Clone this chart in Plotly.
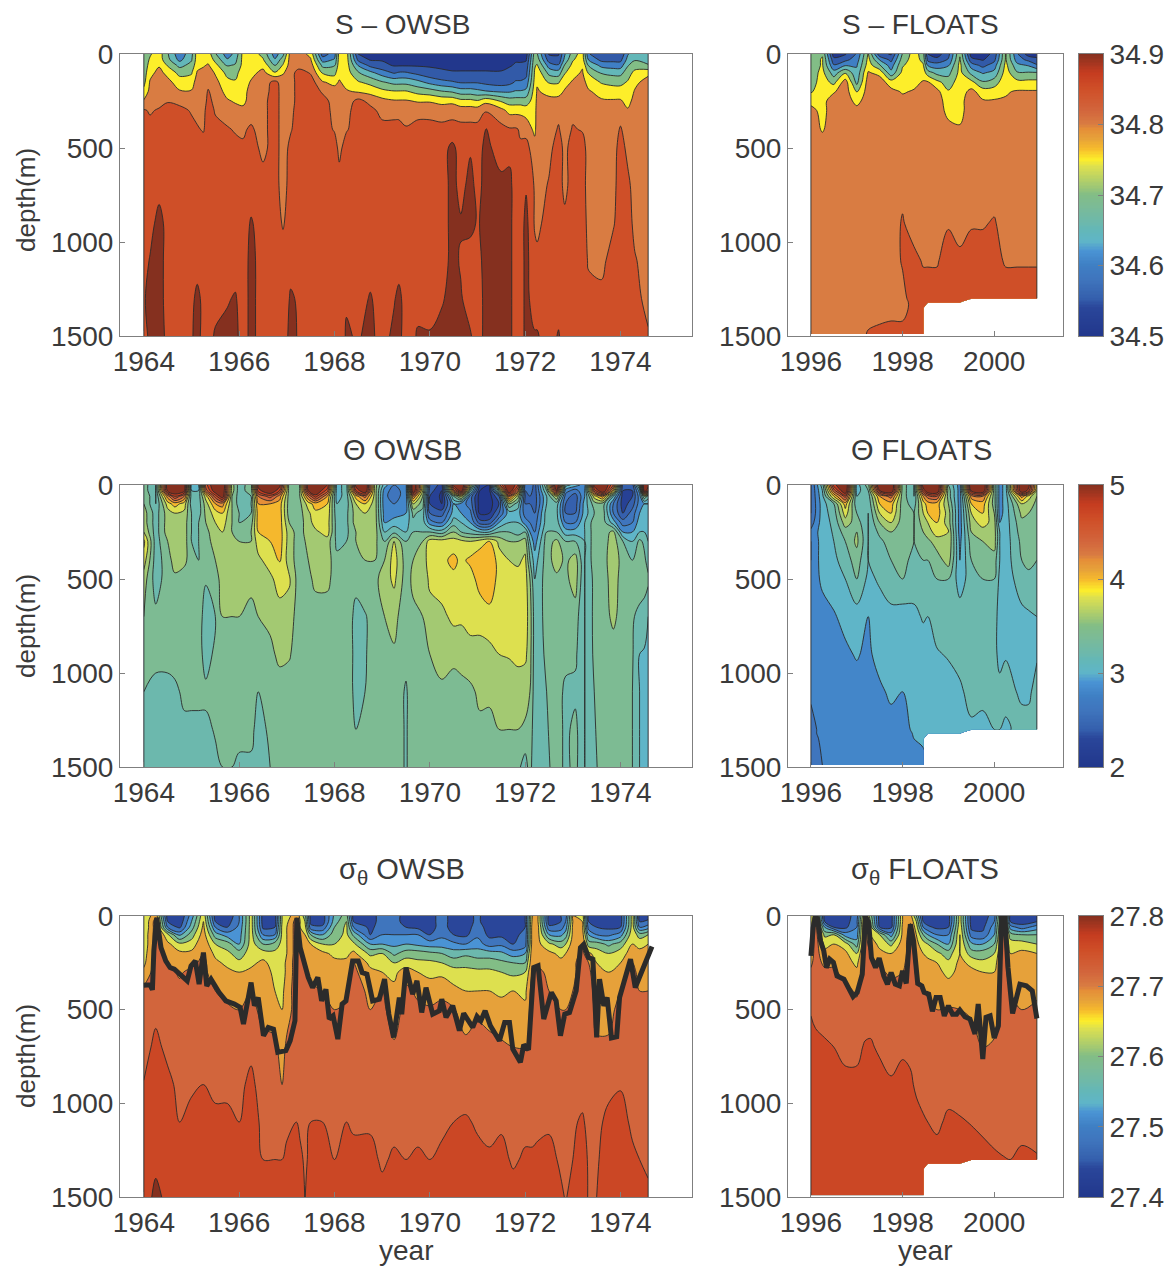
import numpy as np
import plotly.graph_objects as go

NA = None

# depth levels of the profiles (m)
DEPTHS = [0, 30, 60, 100, 150, 200, 250, 300, 400, 500, 700, 900, 1100, 1300, 1500]
FLOAT_DEPTHS = [0, 30, 60, 100, 150, 200, 250, 300, 400, 500, 700, 900, 1100, 1300, 1320, 1350, 1490]

# S OWSB, one profile per time, hundredths above 34
S_OWSB_YEARS = [1964.0, 1964.13, 1964.32, 1964.5, 1964.75, 1965.0, 1965.12, 1965.25, 1965.35, 1965.5, 1965.75, 1965.92,
                1966.08, 1966.25, 1966.5, 1966.75, 1966.92, 1967.08, 1967.25, 1967.5, 1967.75, 1968.0, 1968.1, 1968.25,
                1968.5, 1968.75, 1969.0, 1969.25, 1969.35, 1969.5, 1969.75, 1970.0, 1970.25, 1970.47, 1970.65, 1970.85,
                1971.0, 1971.17, 1971.5, 1971.67, 1971.8, 1971.9, 1972.02, 1972.2, 1972.25, 1972.5, 1972.7, 1972.83,
                1973.0, 1973.2, 1973.33, 1973.6, 1973.85, 1974.0, 1974.15, 1974.3, 1974.58]
S_OWSB = [
    [70, 70, 70, 70, 71, 74, 78, 83, 85, 85, 85, 85, 85, 87, 85],
    [72, 73, 74, 76, 78, 79, 80, 82, 84, 85, 85, 85, 88, 89, 89],
    [75, 75, 77, 79, 80, 80, 81, 83, 85, 85, 85, 90, 90, 90, 90],
    [68, 69, 72, 76, 79, 80, 82, 85, 85, 85, 85, 85, 85, 85, 86],
    [59, 61, 66, 71, 75, 78, 81, 84, 85, 85, 85, 85, 85, 85, 85],
    [66, 67, 69, 72, 75, 78, 80, 82, 84, 85, 85, 85, 85, 86, 87],
    [75, 75, 76, 78, 80, 80, 80, 81, 83, 85, 85, 85, 85, 89, 89],
    [75, 75, 77, 79, 80, 80, 80, 81, 82, 85, 85, 85, 85, 86, 86],
    [75, 76, 78, 80, 81, 83, 84, 85, 85, 85, 85, 85, 85, 85, 86],
    [68, 71, 74, 77, 79, 80, 81, 82, 84, 85, 85, 85, 85, 86, 88],
    [60, 63, 67, 71, 74, 76, 78, 80, 83, 85, 85, 85, 85, 87, 89],
    [64, 66, 68, 71, 73, 75, 77, 79, 82, 84, 85, 85, 85, 88, 89],
    [74, 74, 74, 75, 75, 75, 76, 79, 82, 83, 85, 85, 85, 85, 85],
    [75, 75, 75, 76, 78, 80, 80, 81, 83, 85, 85, 88, 89, 89, 89],
    [71, 73, 76, 79, 80, 80, 81, 81, 81, 81, 85, 85, 85, 85, 85],
    [60, 63, 67, 73, 84, 85, 85, 85, 85, 85, 85, 85, 85, 85, 85],
    [66, 70, 73, 77, 80, 80, 80, 80, 80, 80, 80, 82, 85, 85, 85],
    [80, 80, 80, 80, 80, 80, 80, 81, 82, 84, 85, 85, 86, 88, 89],
    [80, 80, 80, 85, 85, 85, 85, 85, 85, 85, 85, 85, 85, 87, 87],
    [76, 78, 80, 82, 85, 85, 85, 85, 85, 85, 85, 85, 85, 85, 87],
    [55, 60, 66, 72, 78, 82, 84, 85, 85, 85, 85, 85, 85, 85, 85],
    [60, 63, 67, 71, 76, 80, 81, 81, 82, 85, 85, 85, 85, 85, 85],
    [75, 75, 75, 76, 78, 80, 80, 80, 80, 81, 85, 85, 85, 85, 85],
    [75, 75, 75, 75, 76, 78, 80, 81, 82, 85, 85, 85, 85, 87, 88],
    [52, 56, 62, 68, 73, 77, 84, 85, 85, 85, 85, 85, 85, 85, 87],
    [50, 52, 56, 64, 71, 76, 81, 84, 85, 85, 85, 85, 85, 88, 89],
    [50, 52, 54, 60, 68, 74, 79, 81, 84, 85, 85, 85, 85, 85, 85],
    [48, 50, 52, 57, 66, 73, 78, 81, 84, 85, 85, 85, 85, 87, 89],
    [48, 50, 52, 58, 66, 73, 78, 81, 84, 85, 85, 85, 85, 89, 89],
    [48, 50, 52, 58, 66, 73, 78, 80, 83, 85, 85, 85, 85, 85, 85],
    [48, 50, 52, 56, 64, 71, 77, 81, 84, 85, 85, 85, 85, 86, 88],
    [48, 50, 52, 54, 61, 70, 77, 81, 84, 85, 85, 85, 85, 85, 88],
    [48, 50, 52, 53, 59, 68, 76, 80, 84, 85, 85, 85, 85, 87, 89],
    [48, 50, 51, 53, 58, 67, 76, 81, 84, 89, 89, 89, 89, 89, 89],
    [48, 50, 51, 53, 57, 65, 74, 80, 84, 85, 86, 88, 87, 88, 89],
    [48, 50, 51, 53, 57, 65, 74, 80, 84, 87, 89, 89, 85, 85, 88],
    [48, 50, 51, 53, 57, 64, 73, 80, 84, 85, 86, 87, 86, 85, 85],
    [47, 49, 51, 53, 56, 63, 76, 82, 88, 89, 89, 89, 89, 89, 89],
    [47, 49, 51, 53, 55, 62, 72, 79, 84, 85, 89, 89, 89, 88, 89],
    [48, 50, 52, 54, 56, 62, 70, 76, 83, 86, 89, 89, 89, 89, 89],
    [50, 52, 53, 55, 58, 63, 70, 76, 83, 85, 85, 85, 85, 85, 85],
    [50, 52, 53, 55, 58, 63, 70, 76, 82, 83, 85, 85, 85, 85, 85],
    [50, 52, 54, 56, 59, 64, 70, 75, 81, 84, 87, 89, 89, 89, 89],
    [70, 71, 72, 73, 74, 75, 75, 75, 76, 80, 82, 82, 84, 85, 88],
    [68, 70, 73, 76, 77, 78, 79, 80, 80, 80, 80, 81, 84, 85, 88],
    [52, 55, 60, 66, 72, 76, 79, 80, 80, 81, 83, 85, 85, 85, 85],
    [52, 54, 58, 65, 72, 76, 79, 81, 83, 85, 85, 85, 85, 85, 88],
    [62, 64, 68, 72, 76, 78, 80, 80, 80, 81, 81, 84, 85, 85, 85],
    [70, 72, 74, 76, 78, 80, 81, 81, 83, 85, 85, 85, 85, 85, 85],
    [75, 75, 77, 78, 79, 80, 80, 81, 82, 85, 85, 85, 85, 85, 87],
    [58, 62, 67, 72, 76, 78, 80, 80, 80, 80, 80, 81, 82, 84, 85],
    [53, 56, 61, 67, 72, 76, 78, 80, 80, 80, 80, 80, 81, 84, 85],
    [53, 56, 60, 66, 71, 75, 78, 80, 80, 80, 81, 82, 85, 85, 85],
    [53, 56, 60, 66, 71, 75, 78, 80, 83, 85, 85, 85, 85, 85, 85],
    [62, 64, 67, 70, 73, 74, 76, 78, 80, 81, 84, 85, 85, 85, 85],
    [65, 67, 70, 74, 76, 78, 79, 80, 80, 80, 80, 81, 83, 84, 85],
    [64, 65, 68, 76, 80, 80, 80, 80, 80, 80, 80, 80, 80, 81, 83],
]

# S floats, hundredths above 34
S_FLOATS_YEARS = [1996.0, 1996.25, 1996.5, 1996.75, 1997.0, 1997.25, 1997.5, 1997.75, 1998.0, 1998.25, 1998.45, 1998.55,
                  1998.75, 1999.0, 1999.25, 1999.5, 1999.75, 2000.0, 2000.25, 2000.5, 2000.75, 2000.93]
S_FLOATS = [
    [70, 70, 70, 70, 70, 72, 76, 79, 80, 80, 80, 80, 80, 80, 80, 80, 80],
    [72, 73, 73, 74, 75, 75, 76, 76, 77, 80, 80, 80, 80, 80, 80, 80, 80],
    [50, 54, 58, 65, 71, 77, 80, 80, 80, 80, 80, 80, 80, 80, 80, 80, 80],
    [52, 56, 62, 72, 80, 80, 80, 80, 80, 80, 80, 80, 80, 80, 80, 80, 80],
    [58, 60, 62, 64, 66, 72, 76, 79, 80, 80, 80, 80, 80, 80, 80, 80, 80],
    [73, 74, 75, 78, 80, 80, 80, 80, 80, 80, 80, 80, 80, 80, 80, 80, 83],
    [54, 62, 68, 76, 80, 80, 80, 80, 80, 80, 80, 80, 80, 80, 80, 80, 84],
    [52, 56, 60, 64, 75, 79, 80, 80, 80, 80, 80, 80, 80, 80, 80, 80, 85],
    [68, 70, 72, 74, 75, 77, 79, 80, 80, 80, 81, 83, 83, 81, 80, 80, 85],
    [75, 75, 75, 75, 76, 78, 80, 80, 80, 80, 80, 80, 84, 85, 85, 85, 85],
    [70, 71, 73, 75, 78, 80, 80, 80, 80, 80, 80, 80, 82, 85, 85, 85, 85],
    [52, 56, 62, 70, 78, 80, 80, 80, 80, 80, 80, 80, 82, 85, 85, NA, NA],
    [50, 54, 60, 66, 74, 79, 80, 80, 80, 80, 80, 80, 82, 85, 85, NA, NA],
    [56, 58, 62, 66, 70, 73, 75, 76, 79, 80, 80, 82, 85, 85, 85, NA, NA],
    [72, 73, 74, 74, 75, 75, 76, 76, 78, 80, 80, 80, 84, 85, 85, NA, NA],
    [50, 54, 60, 66, 74, 79, 80, 80, 80, 80, 80, 82, 85, 85, NA, NA, NA],
    [50, 52, 56, 62, 68, 75, 78, 80, 80, 80, 80, 82, 85, 85, NA, NA, NA],
    [54, 56, 60, 64, 70, 75, 78, 80, 80, 80, 80, 83, 84, 85, NA, NA, NA],
    [73, 73, 74, 75, 76, 77, 78, 79, 80, 80, 80, 80, 82, 85, NA, NA, NA],
    [58, 60, 64, 68, 74, 78, 80, 80, 80, 80, 80, 80, 82, 85, NA, NA, NA],
    [50, 56, 62, 68, 74, 78, 80, 80, 80, 80, 80, 80, 82, 85, NA, NA, NA],
    [50, 54, 58, 68, 74, 78, 80, 80, 80, 80, 80, 80, 82, 85, NA, NA, NA],
]

# potential temperature OWSB, tenths of a degree
T_OWSB_YEARS = [1964.0, 1964.25, 1964.5, 1964.65, 1964.85, 1965.0, 1965.15, 1965.3, 1965.5, 1965.65, 1965.85, 1966.0,
                1966.25, 1966.4, 1966.65, 1966.85, 1967.05, 1967.25, 1967.45, 1967.6, 1967.85, 1968.05, 1968.25, 1968.45,
                1968.64, 1968.85, 1969.05, 1969.25, 1969.5, 1969.65, 1969.85, 1970.0, 1970.25, 1970.5, 1970.66, 1970.85,
                1971.05, 1971.25, 1971.45, 1971.66, 1971.85, 1972.0, 1972.1, 1972.2, 1972.45, 1972.66, 1972.85, 1973.05,
                1973.25, 1973.45, 1973.63, 1973.85, 1974.05, 1974.25, 1974.4, 1974.5, 1974.58]
T_OWSB = [
    [34, 34, 35, 35, 36, 36, 37, 39.5, 38, 36, 35, 34, 33, 32, 32],
    [31, 31, 31, 31, 32, 32, 32, 32, 32, 32, 33.5, 33.5, 32.5, 32, 32],
    [51, 50, 42, 38, 36, 36, 36, 35, 34, 34, 34, 33.5, 32.5, 32, 32],
    [53, 52, 47, 40, 37, 36, 36, 36, 36, 34.5, 34, 34, 32.5, 32, 32],
    [51, 50, 43, 38, 36.5, 36, 36, 36, 35.5, 34, 34, 34, 33.5, 32.5, 32],
    [30, 31, 32, 32, 33, 33, 33, 33, 34, 34, 34, 34, 33.5, 32.5, 32],
    [31, 31, 32, 32, 32, 33, 33, 33, 33, 34, 34, 34, 34, 32, 32],
    [46, 44, 38, 36, 35.5, 35, 34.5, 34, 34, 33.2, 32, 32, 33.5, 32.5, 32],
    [52, 51, 46, 41, 38, 37, 36, 36, 35, 34, 33, 33.5, 33.6, 33.2, 32.5],
    [53, 52, 51, 42, 39, 38, 37, 36, 36, 36, 35, 34, 34, 33.5, 33],
    [36, 36, 35, 35, 35, 35, 35, 35.5, 36, 36, 35, 34, 34, 33.5, 33],
    [32, 32, 32, 32, 33, 33, 34.5, 35, 35.5, 36, 35, 34, 34, 33.8, 32.5],
    [34, 34, 33, 33, 33, 34, 35, 35, 35.5, 35.5, 34.5, 34, 34, 33.7, 32.5],
    [50, 48, 43, 41, 40, 40, 39, 38, 36.5, 36, 35, 34, 33, 32, 32],
    [53, 52, 46, 41, 40, 40, 39.5, 39, 38, 36.5, 35.5, 34.5, 33.5, 33.5, 33],
    [50, 47, 42, 40, 40, 40, 40, 40, 39.2, 38, 36, 35.5, 34, 34, 34],
    [34, 34, 34, 34, 34, 35, 36, 36, 36, 37.3, 36, 35.2, 34, 34, 34],
    [33.5, 33.5, 34, 34, 34, 34, 34, 34, 34, 34, 34, 34, 34, 34, 34],
    [51, 49, 43, 38, 36.5, 36, 36, 35.5, 35, 34.5, 34, 34, 34, 34, 34],
    [53, 52, 48, 40, 38.5, 38, 36.5, 36, 35.5, 35.5, 34, 34, 34, 34, 34],
    [49, 46, 41, 39, 38.5, 38, 38, 36, 36, 35.5, 34, 34, 34, 34, 34],
    [30, 30, 30, 31, 31.5, 32, 32, 32.5, 33.5, 34, 34, 34, 34, 34, 34],
    [32, 32, 32, 32, 32.5, 32.5, 32.5, 33, 34, 34, 34, 34, 34, 34, 34],
    [50, 47, 40, 37, 36, 36, 35, 35, 34, 33.5, 32.5, 32.5, 32.5, 33, 34],
    [53, 52, 44, 39, 37, 36.5, 36, 35.5, 35, 34.5, 32.8, 32.8, 33, 34, 34],
    [36, 36, 36, 36, 36, 36, 36, 35.5, 35, 34.5, 34, 34, 34, 34, 34],
    [30, 28, 27.5, 27.5, 28, 29, 31, 33, 35, 36, 35, 34.5, 34, 34, 34],
    [27, 26, 26, 27, 28, 30, 32.5, 37, 38, 37.5, 35.5, 34.8, 34, 34, 34],
    [28, 28, 28, 28, 29, 30, 31, 33, 34, 34, 34, 33.5, 32.8, 32.8, 32.8],
    [53, 52, 43, 37, 33.5, 32.5, 33, 34, 35, 35.5, 34.5, 34, 34, 34, 34],
    [38, 37, 35, 34, 32, 32, 33, 35, 36, 35.5, 35, 34, 34, 34, 34],
    [25, 24, 23, 23, 25, 28, 33, 38, 38, 37.5, 36, 35, 34.5, 34, 34],
    [22, 21, 20.5, 21, 24, 27, 32, 38, 38.5, 38, 36.5, 36, 34.5, 34, 34],
    [50, 44, 33, 29, 30, 32, 35, 38, 39.5, 38.5, 37.5, 35.5, 34.2, 34, 34],
    [53, 51, 38, 28, 29, 31, 33, 37.5, 38.5, 38.5, 37.4, 35.6, 34.5, 34, 34],
    [38, 32, 26, 26, 27.5, 29, 32, 37, 39.5, 38, 37.5, 36.5, 34.5, 34, 34],
    [22, 21, 20, 20, 20.5, 24, 31, 38, 40.5, 40, 37.5, 36.5, 35.5, 34.5, 34],
    [21, 20.5, 20, 20, 21, 24, 31, 39, 41, 41, 38, 36.5, 35.5, 34.3, 34],
    [44, 34, 25, 23, 25, 29, 33, 36.5, 38, 38, 38, 37, 35.5, 35, 34],
    [53, 52, 44, 35, 30, 31, 33, 35, 37, 38, 38, 37.2, 35.5, 35, 34],
    [47, 43, 36, 32, 30, 31, 32, 35, 36.5, 38, 38, 37.5, 36, 35, 33.5],
    [26, 25, 25, 25, 26, 28, 33, 36, 37.5, 38, 38, 37.5, 35.5, 34.8, 32],
    [27, 26, 25, 25, 26, 27, 29, 31, 33, 35, 36, 35.8, 35, 34, 34],
    [24, 24, 24, 24, 25, 26, 27, 28, 30, 31, 32, 32, 32, 32, 31],
    [35, 33, 31, 31, 32, 32, 33, 34, 34, 34, 33.5, 33.3, 33, 32.8, 32.5],
    [53, 49, 37, 32, 31.5, 32, 33, 35.5, 36, 34.5, 34, 33.5, 34, 34, 34],
    [32, 28, 26, 25, 25, 27, 30, 33, 34.5, 34.5, 34, 33.7, 32.5, 32.5, 32.5],
    [30, 26, 24, 24, 25, 27, 30, 33, 36, 36, 34, 33.4, 32.5, 33.6, 33.6],
    [28, 29, 29, 30, 30, 31, 31, 31, 31, 31, 31, 31, 31, 31, 31],
    [50, 46, 38, 34, 33, 34, 34, 34, 34, 33.5, 33.5, 33.4, 33, 32.8, 32.5],
    [53, 52, 42, 34, 34, 34, 34, 34, 34, 34, 34, 34, 34, 34, 34],
    [45, 40, 31, 27, 27, 30, 35.5, 36, 36.5, 36, 35.5, 34, 34, 34, 34],
    [24, 23, 22, 22, 23, 26, 29, 33, 34, 34, 34, 34, 34, 34, 34],
    [24, 23, 23, 24, 26, 27, 29, 31, 33, 33.4, 33.2, 33.2, 33, 33, 33],
    [35, 30, 28, 28, 29, 30, 31, 33.5, 34, 34, 32.5, 31, 31, 31, 31],
    [53, 51, 35, 29, 30, 30, 31, 32.5, 33.5, 34, 32, 30.8, 30.8, 30.8, 30.8],
    [50, 47, 32, 29, 30, 30, 30.5, 31, 32, 33.5, 31, 30.5, 30.5, 30.5, 30.5],
]

# potential temperature floats, tenths of a degree
T_FLOATS_YEARS = [1996.0, 1996.25, 1996.5, 1996.75, 1997.0, 1997.25, 1997.5, 1997.75, 1998.0, 1998.25, 1998.45, 1998.55,
                  1998.75, 1999.0, 1999.25, 1999.5, 1999.75, 2000.0, 2000.12, 2000.25, 2000.6, 2000.75, 2000.93]
T_FLOATS = [
    [25, 25, 25, 25, 25, 26, 27.5, 27, 27, 27.5, 28, 28, 27.5, 26, 26, 26, 26],
    [32, 31, 30.5, 30, 30, 30, 30, 30, 30, 29.5, 28, 28, 28, 28, 28, 27.5, 27],
    [48, 44, 39, 33, 32, 31.5, 31.2, 31, 30.5, 30, 28.8, 28.5, 28, 28, 28, 28, 28],
    [53, 52, 46, 40, 38, 36, 34, 33, 32, 31, 29.6, 28.6, 28, 28, 28, 28, 28],
    [30, 30, 31, 31.5, 33, 34, 35, 35.5, 34, 33, 30, 29.2, 28, 28, 28, 28, 28],
    [34, 33, 32, 31.5, 31, 31, 31, 31, 31, 30.5, 29, 28.5, 28, 28, 28, 28, 28],
    [53, 49, 41, 39, 37, 35, 33.5, 32.5, 32, 31.3, 30, 30, 28.5, 28, 28, 28, 28],
    [53, 52, 44, 40, 39, 37, 35, 34, 33, 32, 30.5, 30, 29.5, 28, 28, 28, 28],
    [34, 34, 34, 34, 34, 34, 34, 34, 33.5, 33, 30, 30, 29, 28, 28, 28, 28],
    [31, 31, 31, 32, 33, 33, 33, 33, 32.5, 32, 30.5, 30, 30, 29.5, 29.2, 29, 28],
    [51, 47, 41, 38, 37, 36, 35, 34, 33, 32, 31.2, 30, 30, 30, 30, 29.5, 28],
    [53, 52, 44, 40, 39, 37, 36, 34.5, 33, 32, 31, 30, 30, 30, 30, NA, NA],
    [53, 52, 45, 40, 40, 39, 38, 36, 34, 33, 32, 30.8, 30, 30, 30, NA, NA],
    [33, 34, 34, 35, 36, 36, 37, 37, 36, 33, 32, 31.2, 30, 30, 30, NA, NA],
    [28, 28, 28, 28, 28, 28, 28, 28.5, 29, 30, 32, 32, 30.5, 30, 30, NA, NA],
    [53, 50, 42, 39, 37, 36, 35, 34, 33, 32, 32, 32, 32, 30.5, NA, NA, NA],
    [53, 52, 43, 40, 39, 38, 36, 35, 34, 33, 32, 32, 32, 30, NA, NA, NA],
    [34, 34, 34, 34, 35, 36, 36, 36, 34, 33, 32, 32, 32, 31, NA, NA, NA],
    [28, 28, 28, 28, 28, 29, 31, 31, 31, 30.5, 30, 30, 32, 31, NA, NA, NA],
    [30, 30, 30, 30, 30, 30, 30, 30, 30, 30, 30, 30.8, 32, 30.5, NA, NA, NA],
    [53, 52, 42, 37, 35.5, 34.5, 34, 33.5, 33, 32, 30.5, 30, 30.5, 32, NA, NA, NA],
    [50, 48, 38, 36, 35, 34.5, 34.5, 34.5, 33.5, 32.5, 30.7, 30, 30.5, 32, NA, NA, NA],
    [38, 37, 35, 34.5, 34, 34, 34, 34, 33, 32.5, 31, 30.7, 32, 32, NA, NA, NA],
]

# sigma theta OWSB, hundredths above 27
D_OWSB_YEARS = [1964.0, 1964.25, 1964.5, 1964.75, 1965.0, 1965.25, 1965.5, 1965.75, 1966.0, 1966.25, 1966.5, 1966.75,
                1966.9, 1967.0, 1967.2, 1967.28, 1967.38, 1967.5, 1967.75, 1968.0, 1968.25, 1968.4, 1968.75, 1969.0, 1969.25,
                1969.5, 1969.75, 1970.0, 1970.25, 1970.5, 1970.75, 1971.0, 1971.25, 1971.5, 1971.75, 1972.0, 1972.15,
                1972.27, 1972.5, 1972.75, 1972.85, 1973.0, 1973.2, 1973.33, 1973.5, 1973.75, 1974.0, 1974.25, 1974.4, 1974.58]
D_OWSB = [
    [62, 62, 62, 63, 63, 64, 65, 67, 71, 72, 72.5, 74.2, 76, 76, 76],
    [69, 72, 72, 72, 72, 72, 72, 72, 72, 73, 75, 76, 76, 77, 79],
    [44, 46, 50, 63, 67, 68, 70, 71, 72, 72, 73, 75, 76, 76, 77],
    [42, 43, 45, 53, 63, 67, 68, 69.5, 71, 72, 72, 73, 74, 75, 76],
    [52, 54, 56, 60, 64, 67, 69, 71, 72, 72, 72, 73.5, 75, 76, 76],
    [65, 66, 67, 68, 69, 70, 71, 71, 72, 72, 72, 74, 75, 76, 76],
    [44, 46, 50, 56, 62, 65, 67, 68, 70, 71, 72, 73, 75, 76, 76],
    [42, 44, 46, 52, 60, 63, 65, 67, 69, 70.5, 72, 73, 75, 76, 76],
    [50, 50, 51, 52, 54, 60, 63, 66, 68, 70, 72, 73, 74, 76, 77],
    [64, 64, 64, 64, 64, 64, 65, 67, 70, 71, 73, 75, 76, 76, 76],
    [44, 44, 45, 50, 58, 64, 67, 68, 68, 69, 71, 72, 73, 74, 76],
    [44, 44, 46, 50, 60, 63, 64, 65, 66, 68, 71, 72, 73, 74, 76],
    [62, 62, 63, 63, 63, 63, 64, 64, 65, 66, 68, 70, 73, 74, 76],
    [64, 65, 66, 66, 66, 66, 67, 67, 68, 68, 71, 72, 73, 75, 76],
    [69, 72, 72, 72, 72, 72, 72, 72, 72, 72, 72, 73, 74, 75, 76],
    [65, 66, 66, 67, 69, 71, 72, 72, 72, 72, 72, 72, 73, 75, 76],
    [60, 62, 64, 66, 68, 69, 70, 71, 72, 72, 72, 72, 73, 73.3, 73.9],
    [44, 45, 47, 58, 66, 67, 68, 68.5, 71, 72, 72, 73, 74, 75, 76],
    [44, 44, 47, 54, 62, 67, 68, 69, 70, 71, 72, 73, 74, 75, 76],
    [55, 56, 58, 60, 62, 65, 67, 68, 69, 70, 72, 73, 73, 74, 76],
    [60, 62, 63, 63, 64, 65, 67, 68, 69.5, 70.5, 72, 73, 74, 75, 76],
    [44, 46, 50, 57, 63, 67, 70, 71, 72, 72, 72, 73, 73.5, 75, 76],
    [44, 44, 45, 46, 54, 61, 65, 67, 69, 70, 72, 73, 73.5, 75, 76],
    [48, 48, 48, 50, 54, 62, 65, 66, 70, 71, 72, 72, 73, 73.5, 75],
    [48, 48, 48, 50, 53, 57, 62, 65, 67, 68, 70.5, 72, 73, 74.5, 76],
    [44, 44, 46, 50, 54, 60, 64, 68, 71, 71.5, 72, 72, 73, 74, 76],
    [44, 44, 45, 50, 53, 60, 63, 66, 69, 71, 72, 72, 73, 74.5, 76],
    [44, 44, 44, 46, 52, 59, 63, 65, 68, 70.5, 72, 72, 73, 74, 75.5],
    [48, 48, 48, 49, 52, 58, 62, 65, 69, 71, 72, 72, 73, 75, 76],
    [44, 44, 44, 46, 51, 56, 60, 64, 67, 70.3, 72, 72, 74, 75, 76],
    [44, 44, 44, 45, 50, 57, 61, 63, 66, 68, 71, 72, 74.5, 75, 77],
    [47, 47, 48, 49, 52, 56, 60, 63, 66, 69.5, 71, 72, 73.5, 75, 76],
    [43, 43, 44, 45, 48, 56, 60, 63, 66, 68, 71.5, 72, 73, 74.5, 76],
    [43, 43, 44, 45, 49, 55, 59, 62, 65, 68, 70.5, 72, 73.5, 75, 76],
    [44, 44, 44, 45, 46, 52, 58, 61, 66, 67, 70, 72, 73, 73.5, 75.5],
    [46, 46, 46, 47, 48, 54, 58, 62, 65, 67, 70, 72, 73, 74.5, 76],
    [66, 67, 68, 68, 68, 69, 69.5, 70.5, 72, 72, 72, 73, 73, 74.5, 76],
    [66, 66, 67, 67, 67, 68, 69, 71, 72, 72, 72, 73, 73.5, 74.5, 76],
    [44, 44, 47, 54, 63, 67, 68, 69, 70, 71, 72, 73, 73.5, 75, 77],
    [46, 46, 48, 53, 60, 65, 67, 68, 69, 70, 71.5, 72.5, 73, 73.5, 74.5],
    [48, 50, 52, 56, 62, 66, 68, 68, 69, 70, 71.5, 72.5, 73, 73.5, 73.8],
    [66, 66, 67, 67, 68, 68, 69, 69, 70, 71, 72, 73, 73.5, 74, 75],
    [65, 66, 67, 68, 70, 71, 72, 72, 72, 72, 72, 72.5, 74.5, 76, 77],
    [44, 46, 48, 54, 60, 67, 70, 71, 72, 72, 72, 73, 73, 73.5, 73.5],
    [44, 44, 46, 50, 60, 64, 66, 67, 68, 69, 70.5, 72, 73, 73.5, 74],
    [44, 44, 45, 49, 57, 62, 64, 66, 68, 69, 70.5, 73, 75, 76, 76],
    [44, 44, 46, 52, 60, 64, 66, 68, 70, 71, 72, 73.6, 76, 76, 76],
    [64, 64, 64, 65, 66, 68, 70, 71, 72, 72, 72, 72, 73, 75, 76],
    [44, 46, 50, 60, 65, 67, 68, 69, 70, 71, 72, 72, 73, 74, 75.5],
    [44, 47, 52, 62, 66, 67, 68, 69, 70, 71, 72, 72, 73, 73.5, 74.5],
]

# sigma theta floats, hundredths above 27
D_FLOATS_YEARS = [1996.0, 1996.1, 1996.3, 1996.5, 1996.75, 1997.0, 1997.18, 1997.3, 1997.5, 1997.75, 1998.0, 1998.17,
                  1998.3, 1998.45, 1998.55, 1998.75, 1999.0, 1999.25, 1999.5, 1999.75, 2000.0, 2000.2, 2000.35, 2000.6, 2000.93]
D_FLOATS = [
    [64, 64, 65, 65, 66, 67, 69, 71, 72, 73.8, 75, 76, 76, 76, 76, 76, 76],
    [68, 71, 72, 72, 72, 72, 72, 72, 72, 73, 75, 76, 76, 76, 76, 76, 76],
    [44, 46, 54, 61, 65, 67, 69, 71, 72, 72.5, 74.5, 76, 76, 76, 76, 76, 76],
    [44, 45, 46, 62, 66, 67, 69.5, 70.5, 71, 72, 74, 75, 76, 76, 76, 76, 76],
    [44, 44, 45, 52, 64, 67, 68, 69, 71, 72, 73, 75, 76, 76, 76, 76, 76],
    [48, 49, 50, 52, 56, 62, 65, 67, 69.5, 71, 73.5, 74.5, 76, 76, 76, 76, 76],
    [68, 71, 72, 72, 72, 72, 72, 72, 72, 73, 74.2, 75, 76, 76, 76, 76, 76],
    [60, 62, 64, 66, 68, 70, 71, 72, 72, 73, 74.3, 75, 76, 76, 76, 76, 76],
    [44, 44, 46, 62, 65, 67, 69.5, 70.5, 71, 72, 73.6, 75, 76, 76, 76, 76, 76],
    [44, 44, 45, 52, 61, 66, 68, 69.5, 71, 72, 73, 74.3, 75, 76, 76, 76, 76],
    [66, 66, 67, 67, 68, 68, 69, 70, 72, 72, 73.5, 75, 76, 76, 76, 76, 76],
    [68, 69.5, 71, 72, 72, 72, 72, 72, 72, 72, 73.3, 74.5, 75, 76, 76, 76, 76],
    [58, 62, 64, 66, 67, 68, 69, 69.5, 71, 72, 72.5, 73.5, 75, 76, 76, 76, 76],
    [44, 46, 50, 58, 64, 66, 67, 68, 70, 71, 72, 73, 74.3, 75, 75, 75, 75],
    [44, 44, 47, 54, 62, 65, 67, 68, 69.5, 71, 72, 73, 74, 75, 75, NA, NA],
    [44, 44, 45, 50, 58, 63, 66, 67, 68, 70, 72, 73, 73.5, 75, 75, NA, NA],
    [44, 44, 46, 50, 54, 60, 63, 65, 68, 70.3, 72, 73, 74.5, 75, 75, NA, NA],
    [64, 64, 65, 66, 66, 66, 67, 67, 69, 70, 72, 73, 74.2, 75, 75, NA, NA],
    [44, 44, 45, 48, 55, 60, 65, 67, 68, 69.5, 71.5, 73, 73.9, 75, NA, NA, NA],
    [44, 44, 45, 47, 54, 60, 63, 66, 67, 68, 70, 72, 73.6, 74.6, NA, NA, NA],
    [48, 50, 52, 54, 58, 62, 64, 66, 67, 68, 70.6, 72, 73, 74.4, NA, NA, NA],
    [70, 71, 72, 72, 72, 72, 72, 72, 72, 72, 72, 72.5, 73, 74.1, NA, NA, NA],
    [44, 46, 52, 60, 64, 66, 67, 68, 70, 71, 72, 73, 73.6, 74, NA, NA, NA],
    [44, 44, 48, 58, 64, 67, 68, 68.5, 69, 70, 72, 73, 73.5, 74.3, NA, NA, NA],
    [44, 46, 52, 58, 62, 66, 67, 68, 69, 71, 72, 73, 73.5, 74.1, NA, NA, NA],
]

# thick black line on the sigma panels
LINE_OWSB_YEARS = [1964.0, 1964.13, 1964.18, 1964.21, 1964.27, 1964.32, 1964.36, 1964.46, 1964.55, 1964.64, 1964.78, 1964.91,
                   1964.99, 1965.08, 1965.16, 1965.25, 1965.32, 1965.41, 1965.58, 1965.72, 1965.9, 1966.02, 1966.09, 1966.16,
                   1966.25, 1966.32, 1966.4, 1966.51, 1966.61, 1966.72, 1966.81, 1966.98, 1967.07, 1967.17, 1967.21, 1967.28,
                   1967.45, 1967.54, 1967.65, 1967.73, 1967.82, 1967.89, 1967.97, 1968.07, 1968.16, 1968.24, 1968.38, 1968.5,
                   1968.58, 1968.68, 1968.8, 1968.94, 1969.05, 1969.14, 1969.24, 1969.36, 1969.41, 1969.5, 1969.64, 1969.73,
                   1969.83, 1969.92, 1970.06, 1970.2, 1970.25, 1970.34, 1970.48, 1970.62, 1970.71, 1970.9, 1970.99, 1971.07,
                   1971.16, 1971.27, 1971.46, 1971.57, 1971.67, 1971.74, 1971.9, 1971.97, 1972.07, 1972.18, 1972.27, 1972.39,
                   1972.55, 1972.65, 1972.74, 1972.83, 1972.93, 1973.07, 1973.16, 1973.23, 1973.33, 1973.42, 1973.5, 1973.56,
                   1973.65, 1973.72, 1973.81, 1973.92, 1973.98, 1974.21, 1974.31, 1974.66]
LINE_OWSB_DEPTH = [369, 367, 394, 186, 9, 98, 169, 240, 275, 284, 320, 346,
                   266, 240, 364, 195, 373, 337, 408, 453, 470, 488, 577, 488,
                   355, 479, 435, 639, 595, 604, 728, 719, 666, 559, 9, 169,
                   328, 382, 328, 453, 391, 550, 533, 657, 470, 453, 240, 240,
                   302, 311, 453, 444, 337, 524, 648, 435, 524, 275, 417, 346,
                   515, 382, 524, 506, 444, 541, 479, 612, 520, 595, 536, 559,
                   506, 586, 666, 568, 568, 710, 781, 687, 715, 275, 266, 550,
                   408, 453, 639, 524, 515, 399, 169, 151, 222, 231, 648, 337,
                   479, 435, 651, 644, 435, 231, 382, 163]
LINE_FLOATS_YEARS = [1996.0, 1996.05, 1996.1, 1996.15, 1996.21, 1996.28, 1996.34, 1996.41, 1996.49, 1996.57, 1996.72, 1996.83,
                     1996.92, 1997.01, 1997.12, 1997.19, 1997.26, 1997.32, 1997.41, 1997.49, 1997.59, 1997.67, 1997.75, 1997.84,
                     1997.93, 1998.0, 1998.08, 1998.17, 1998.24, 1998.33, 1998.42, 1998.47, 1998.57, 1998.65, 1998.73, 1998.82,
                     1998.91, 1999.0, 1999.09, 1999.18, 1999.25, 1999.36, 1999.47, 1999.58, 1999.65, 1999.75, 1999.82, 1999.91,
                     2000.0, 2000.09, 2000.16, 2000.23, 2000.3, 2000.4, 2000.56, 2000.7, 2000.83, 2000.93]
LINE_FLOATS_DEPTH = [213, 62, 0, 18, 133, 186, 275, 231, 248, 320, 337, 382,
                     430, 408, 311, 0, 36, 222, 275, 225, 320, 364, 302, 364,
                     373, 293, 360, 44, 133, 360, 373, 408, 417, 509, 435, 435,
                     533, 479, 524, 524, 502, 538, 550, 630, 470, 763, 541, 533,
                     651, 586, 0, 0, 275, 520, 364, 373, 399, 547]

OWSB_TICKS = [1964, 1966, 1968, 1970, 1972, 1974]
FLOAT_TICKS = [1996, 1998, 2000]
DEPTH_TICKS = [0, 500, 1000, 1500]
S_BAR_TICKS = [34.5, 34.6, 34.7, 34.8, 34.9]
T_BAR_TICKS = [2, 3, 4, 5]
D_BAR_TICKS = [27.4, 27.5, 27.6, 27.7, 27.8]

COLORSCALE = [
    [0.0, "#22378c"], [0.1, "#2a469a"], [0.133, "#3560ad"], [0.2, "#3f75bd"], [0.25, "#3f7fc4"],
    [0.3, "#4a93d4"], [0.333, "#5fb5c8"], [0.375, "#63b7b8"], [0.4, "#6cb8ad"], [0.467, "#7dbb93"],
    [0.5, "#82bd86"], [0.533, "#a3c972"], [0.6, "#dde04f"], [0.625, "#fdee2a"], [0.667, "#f5b82d"],
    [0.7, "#e6a13a"], [0.733, "#e58f38"], [0.75, "#d97c42"], [0.8, "#d2653c"], [0.875, "#cf4f28"],
    [0.933, "#c53c20"], [1.0, "#85301f"],
]

# page has an 8px body margin, so the figure is smaller than the window
PAGE = 8
W, H = 1175 - 2 * PAGE, 1266 - PAGE
TEXT = "#3a3a3a"
AXIS = "#7f7f7f"
FONT = "Liberation Sans"
ROWS = [(54, 336), (485, 767), (916, 1197)]
LEFT = (120, 692)
RIGHT = (788, 1063)
BAR = (1079, 1103)


def px(x):
    return (x - PAGE) / W


def py(y):
    return 1 - (y - PAGE) / H


fig = go.Figure()
layout = {}
n = 0


def add_axes(xbox, ybox, xr, yr, xticks, yticks, side="left"):
    global n
    n += 1
    base = dict(showgrid=False, zeroline=False, showline=True, linecolor=AXIS, linewidth=1, mirror=True,
                ticks="inside", ticklen=5, tickcolor=AXIS, tickfont=dict(family=FONT, size=28, color=TEXT))
    layout[f"xaxis{n}"] = dict(base, domain=[px(xbox[0]), px(xbox[1])], range=xr, tickmode="array", tickvals=xticks,
                               anchor=f"y{n}", side="bottom")
    layout[f"yaxis{n}"] = dict(base, domain=[py(ybox[1]), py(ybox[0])], range=yr, tickmode="array", tickvals=yticks,
                               anchor=f"x{n}", side=side)
    return f"x{n}", f"y{n}"


def add_panel(xbox, ybox, xr, xticks, years, depths, profiles, scale, offset, start, end, size):
    xa, ya = add_axes(xbox, ybox, xr, [1500, 0], xticks, DEPTH_TICKS)
    z = np.array(profiles, dtype=float).T / scale + offset
    fig.add_trace(go.Contour(x=years, y=depths, z=z, xaxis=xa, yaxis=ya, colorscale=COLORSCALE, showscale=False,
                             contours=dict(coloring="fill", start=start, end=end, size=size),
                             line=dict(color="#2a2a2a", width=0.9), connectgaps=False, hoverinfo="skip"))
    # thin edge line on both sides of the data block
    for col in [0, -1]:
        valid = [d for d, v in zip(depths, z[:, col]) if not np.isnan(v)]
        fig.add_trace(go.Scatter(x=[years[col], years[col]], y=[valid[0], valid[-1]], mode="lines", xaxis=xa, yaxis=ya,
                                 line=dict(color="#2a2a2a", width=0.9), hoverinfo="skip"))


def add_bar(ybox, lo, hi, ticks, fmt):
    xa, ya = add_axes(BAR, ybox, [0, 1], [lo, hi], [], ticks, side="right")
    layout[f"yaxis{n}"]["tickformat"] = fmt
    layout[f"xaxis{n}"]["showticklabels"] = False
    levels = np.linspace(lo, hi, 200)
    fig.add_trace(go.Heatmap(x=[0, 1], y=levels, z=[[v, v] for v in levels], xaxis=xa, yaxis=ya, zmin=lo, zmax=hi,
                             colorscale=COLORSCALE, showscale=False, hoverinfo="skip"))


OWSB_RANGE = [1963.5, 1975.5]
FLOAT_RANGE = [1995.5, 2001.5]

add_panel(LEFT, ROWS[0], OWSB_RANGE, OWSB_TICKS, S_OWSB_YEARS, DEPTHS, S_OWSB, 100, 34, 34.525, 34.875, 0.05)
add_panel(RIGHT, ROWS[0], FLOAT_RANGE, FLOAT_TICKS, S_FLOATS_YEARS, FLOAT_DEPTHS, S_FLOATS, 100, 34, 34.525, 34.875, 0.05)
add_bar(ROWS[0], 34.5, 34.9, S_BAR_TICKS, ".1f")
add_panel(LEFT, ROWS[1], OWSB_RANGE, OWSB_TICKS, T_OWSB_YEARS, DEPTHS, T_OWSB, 10, 0, 2.1, 4.9, 0.2)
add_panel(RIGHT, ROWS[1], FLOAT_RANGE, FLOAT_TICKS, T_FLOATS_YEARS, FLOAT_DEPTHS, T_FLOATS, 10, 0, 2.1, 4.9, 0.2)
add_bar(ROWS[1], 2, 5, T_BAR_TICKS, "d")
add_panel(LEFT, ROWS[2], OWSB_RANGE, OWSB_TICKS, D_OWSB_YEARS, DEPTHS, D_OWSB, 100, 27, 27.42, 27.78, 0.04)
fig.add_trace(go.Scatter(x=LINE_OWSB_YEARS, y=LINE_OWSB_DEPTH, mode="lines", xaxis=f"x{n}", yaxis=f"y{n}",
                         line=dict(color="#2b2b2b", width=5), cliponaxis=False, hoverinfo="skip"))
add_panel(RIGHT, ROWS[2], FLOAT_RANGE, FLOAT_TICKS, D_FLOATS_YEARS, FLOAT_DEPTHS, D_FLOATS, 100, 27, 27.42, 27.78, 0.04)
fig.add_trace(go.Scatter(x=LINE_FLOATS_YEARS, y=LINE_FLOATS_DEPTH, mode="lines", xaxis=f"x{n}", yaxis=f"y{n}",
                         line=dict(color="#2b2b2b", width=5), cliponaxis=False, hoverinfo="skip"))
add_bar(ROWS[2], 27.4, 27.8, D_BAR_TICKS, ".1f")


def label(x, y, text, size=29, angle=0):
    return dict(x=px(x), y=py(y), xref="paper", yref="paper", text=text, showarrow=False, textangle=angle,
                xanchor="center", yanchor="middle", font=dict(family=FONT, size=size, color=TEXT))


notes = [
    label(402, 25, "S \u2013 OWSB", size=28), label(920, 25, "S \u2013 FLOATS", size=28),
    label(402, 450, "\u0398 OWSB"), label(921, 450, "\u0398 FLOATS"),
    label(402, 871, "\u03c3<sub>\u03b8</sub> OWSB"), label(925, 871, "\u03c3<sub>\u03b8</sub> FLOATS"),
    label(406, 1250, "year", size=28), label(925, 1250, "year", size=28),
]
for row_mid in [200, 626, 1056]:
    notes.append(label(26, row_mid, "depth(m)", size=26, angle=-90))

fig.update_layout(width=W, height=H, margin=dict(l=0, r=0, t=0, b=0, autoexpand=False), paper_bgcolor="white",
                  plot_bgcolor="white", showlegend=False, annotations=notes, **layout)

fig.write_html("out.html")
